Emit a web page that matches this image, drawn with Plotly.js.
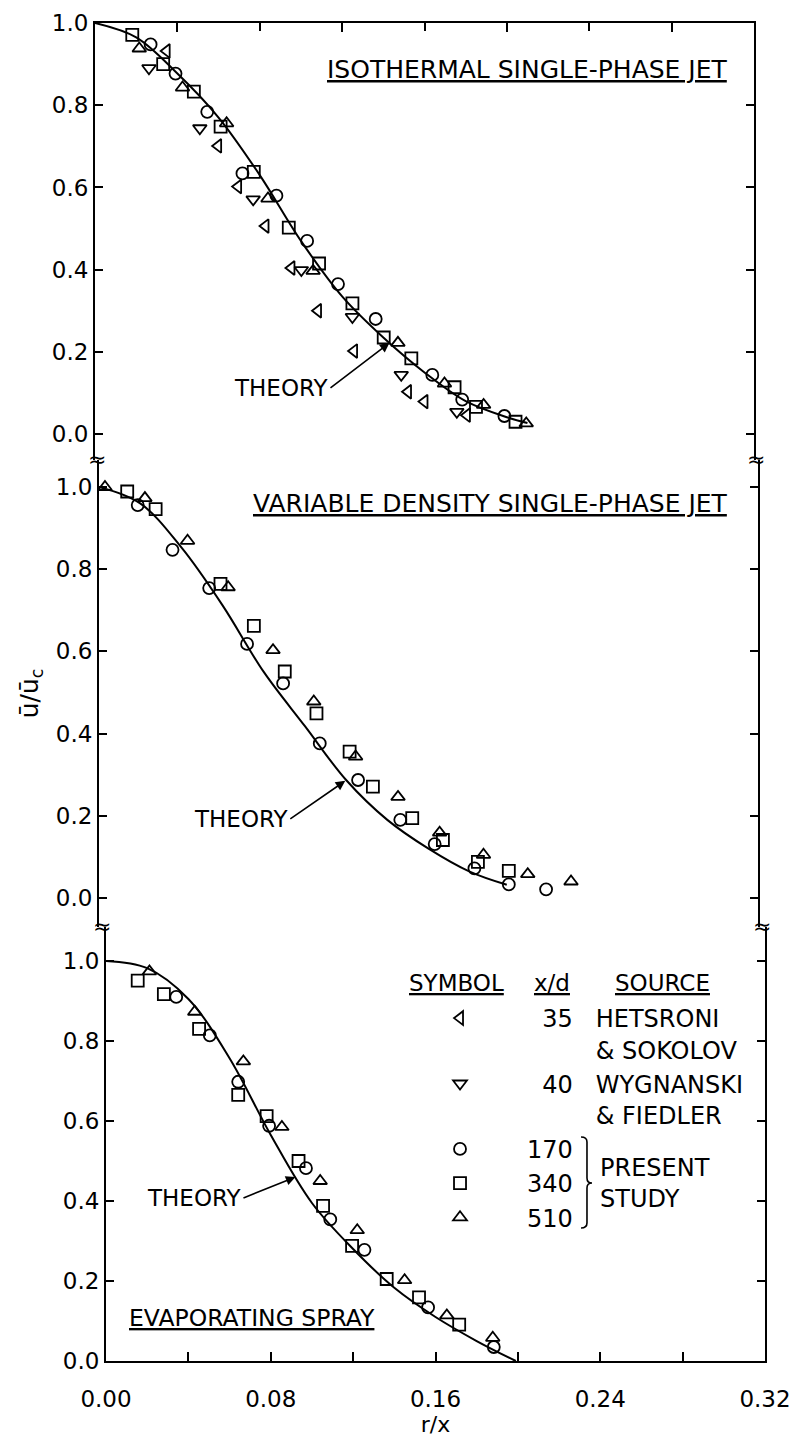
<!DOCTYPE html>
<html><head><meta charset="utf-8">
<script src="https://cdn.plot.ly/plotly-3.0.1.min.js"></script>
<style>html,body{margin:0;padding:0;background:#fff;}</style>
</head><body>
<div id="chart" style="width:796px;height:1443px;"></div>
<script>
// ---------- symbols / sources ----------
const symbols = ['triangle-left-open','triangle-down-open','circle-open','square-open','triangle-up-open'];
const legendNames = [
  '\u200735   HETSRONI<br>\u2007\u2007\u2007   & SOKOLOV',
  '\u200740   WYGNANSKI<br>\u2007\u2007\u2007   & FIEDLER',
  '170', '340', '510'
];
const groups = ['xd35','xd40','xd170','xd340','xd510'];

// ---------- Isothermal single-phase jet (top) ----------
const topR_35  = [0.0348,0.0598,0.0695,0.0828,0.0954,0.1083,0.1258,0.152,0.160,0.1806];
const topU_35  = [0.932,0.701,0.602,0.506,0.404,0.300,0.202,0.103,0.079,0.046];
const topR_40  = [0.0262,0.0509,0.0768,0.1002,0.125,0.1487,0.1757];
const topU_40  = [0.890,0.744,0.571,0.399,0.285,0.144,0.054];
const topR_170 = [0.027,0.0391,0.0545,0.0716,0.0881,0.103,0.118,0.1363,0.1638,0.1783,0.1988];
const topU_170 = [0.948,0.877,0.784,0.634,0.580,0.470,0.365,0.280,0.144,0.084,0.044];
const topR_340 = [0.0181,0.0331,0.048,0.061,0.0771,0.0941,0.1088,0.125,0.1402,0.1536,0.1746,0.185,0.2042];
const topU_340 = [0.971,0.900,0.833,0.748,0.638,0.502,0.415,0.318,0.235,0.184,0.114,0.066,0.030];
const topR_510 = [0.0215,0.0425,0.0639,0.084,0.1059,0.1471,0.1697,0.1887,0.2094];
const topU_510 = [0.938,0.843,0.756,0.573,0.397,0.222,0.123,0.071,0.026];
const topTheoryR = [0,0.02,0.04,0.06,0.08,0.10,0.12,0.14,0.16,0.18,0.20,0.21];
const topTheoryU = [1.0,0.965,0.877,0.77,0.63,0.47,0.335,0.235,0.15,0.08,0.041,0.027];

// ---------- Variable density single-phase jet (middle) ----------
const midR_170 = [0.0188,0.0357,0.0535,0.0719,0.0894,0.1072,0.1258,0.1463,0.163,0.1823,0.199,0.2171];
const midU_170 = [0.956,0.847,0.754,0.618,0.522,0.376,0.287,0.190,0.131,0.072,0.033,0.021];
const midR_340 = [0.0137,0.0275,0.059,0.0752,0.0902,0.1056,0.1217,0.133,0.1521,0.167,0.184,0.199];
const midU_340 = [0.989,0.946,0.764,0.662,0.551,0.449,0.356,0.271,0.194,0.141,0.088,0.066];
const midR_510 = [0.0029,0.0223,0.043,0.0627,0.0845,0.1043,0.1246,0.1452,0.1654,0.1867,0.2082,0.2292];
const midU_510 = [1.0,0.973,0.869,0.756,0.603,0.478,0.344,0.246,0.159,0.105,0.058,0.040];
const midTheoryR = [0,0.02,0.04,0.06,0.08,0.10,0.12,0.14,0.16,0.18,0.198];
const midTheoryU = [1.0,0.96,0.853,0.712,0.55,0.418,0.287,0.19,0.12,0.064,0.032];

// ---------- Evaporating spray (bottom) ----------
const botR_170 = [0.0341,0.0504,0.0642,0.0792,0.0971,0.1089,0.1255,0.1564,0.1883];
const botU_170 = [0.910,0.814,0.698,0.588,0.482,0.354,0.278,0.134,0.035];
const botR_340 = [0.0154,0.0281,0.0452,0.0642,0.078,0.0935,0.1054,0.1195,0.1363,0.152,0.1715];
const botU_340 = [0.951,0.917,0.830,0.665,0.612,0.500,0.388,0.288,0.205,0.159,0.091];
const botR_510 = [0.0211,0.0431,0.0667,0.0854,0.104,0.122,0.145,0.1655,0.1878];
const botU_510 = [0.974,0.873,0.749,0.585,0.450,0.327,0.202,0.114,0.058];
const botTheoryR = [0,0.02,0.04,0.06,0.08,0.10,0.12,0.14,0.16,0.18,0.199];
const botTheoryU = [1.0,0.982,0.905,0.757,0.565,0.395,0.28,0.183,0.11,0.05,0.0];

// ---------- axis ticks ----------
const xMajorVals = [0,0.08,0.16,0.24,0.32];
const xMajorText = ['0.00','0.08','0.16','0.24','0.32'];
const xMinorVals = [0.04,0.12,0.20,0.28];
const yTickVals = [0,0.2,0.4,0.6,0.8,1.0];

const FONT = 'DejaVu Sans';
function pts(x, y, xa, ya, k, show) {
  return {type:'scatter', mode:'markers', x:x, y:y, xaxis:xa, yaxis:ya,
    name:legendNames[k], legendgroup:groups[k], showlegend:show,
    marker:{symbol:symbols[k], size:12, color:'#000', line:{color:'#000', width:1.8}}};
}
function theory(x, y, xa, ya) {
  return {type:'scatter', mode:'lines', x:x, y:y, xaxis:xa, yaxis:ya, showlegend:false,
    name:'THEORY', line:{shape:'spline', smoothing:1, color:'#000', width:2}};
}
const data = [
  pts(topR_35, topU_35, 'x2','y',0,true),
  pts(topR_40, topU_40, 'x2','y',1,true),
  pts(topR_170, topU_170, 'x2','y',2,true),
  pts(topR_340, topU_340, 'x2','y',3,true),
  pts(topR_510, topU_510, 'x2','y',4,true),
  theory(topTheoryR, topTheoryU, 'x2','y'),
  pts(midR_170, midU_170, 'x3','y2',2,false),
  pts(midR_340, midU_340, 'x3','y2',3,false),
  pts(midR_510, midU_510, 'x3','y2',4,false),
  theory(midTheoryR, midTheoryU, 'x3','y2'),
  pts(botR_170, botU_170, 'x','y3',2,false),
  pts(botR_340, botU_340, 'x','y3',3,false),
  pts(botR_510, botU_510, 'x','y3',4,false),
  theory(botTheoryR, botTheoryU, 'x','y3')
];

const minorTicks = {tickvals:xMinorVals, ticks:'inside', ticklen:9, tickwidth:2, tickcolor:'#000', showgrid:false};
const axLine = {showline:true, linecolor:'#000', linewidth:2, ticks:'inside', ticklen:8,
  tickwidth:2, tickcolor:'#000', showgrid:false, zeroline:false,
  tickfont:{family:FONT, size:23, color:'#000'}};
function yax(domain, range, anchor) {
  return Object.assign({}, axLine, {domain:domain, range:range, anchor:anchor, mirror:'ticks',
    tickvals:yTickVals, tickformat:'.1f'});
}
const ann = (o) => Object.assign({showarrow:false, font:{family:FONT, size:23, color:'#000'}}, o);
const brk = (x, y) => ({xref:'paper', yref:'paper', x:x, y:y, xanchor:'center', yanchor:'middle',
  showarrow:false, text:'≈', font:{family:FONT, size:22, color:'#000'}});
const theoryAnn = (xr, yr, x, y, ax, ay) => ({xref:xr, yref:yr, x:x, y:y, ax:ax, ay:ay,
  text:'THEORY', showarrow:true, arrowhead:2, arrowsize:1.2, arrowwidth:1.6, arrowcolor:'#000',
  xanchor:'right', yanchor:'middle', font:{family:FONT, size:23, color:'#000'}});

const layout = {
  width:796, height:1443, paper_bgcolor:'#fff', plot_bgcolor:'#fff',
  margin:{l:95, r:31, t:23, b:82},
  font:{family:FONT, color:'#000'},
  showlegend:true,
  legend:{x:0.4448, y:0.2728, xanchor:'left', yanchor:'top', itemwidth:124,
    valign:'top', traceorder:'normal', bgcolor:'rgba(0,0,0,0)', borderwidth:0,
    font:{family:FONT, size:24, color:'#000'}, itemclick:false, itemdoubleclick:false},
  xaxis: Object.assign({}, axLine, {domain:[0.01642,1], range:[0,0.32], anchor:'y3',
    tickvals:xMajorVals, ticktext:xMajorText, ticklen:9, ticklabelstandoff:16,
    minor:minorTicks,
    title:{text:'r/x', font:{family:FONT, size:22, color:'#000'}, standoff:6}}),
  xaxis2: Object.assign({}, axLine, {domain:[0,0.98358], range:[0,0.32], anchor:'y', side:'top',
    tickvals:xMajorVals, showticklabels:false, minor:minorTicks}),
  xaxis3: {domain:[0.00597,0.98955], range:[0,0.32], anchor:'y2', visible:false},
  yaxis: yax([0.6734,1], [-0.063,1.0], 'x2'),
  yaxis2: Object.assign(yax([0.3244,0.6734], [-0.0706,1.0657], 'x3'),
    {title:{text:'ū/ū<sub>c</sub>', font:{family:FONT, size:25, color:'#000'}, standoff:10}}),
  yaxis3: yax([0,0.3244], [0,1.085], 'x'),
  annotations:[
    ann({xref:'x2', yref:'y', x:0.3084, y:0.886, xanchor:'right', text:'<u>ISOTHERMAL SINGLE-PHASE JET</u>', font:{family:FONT, size:25, color:'#000'}}),
    ann({xref:'x3', yref:'y2', x:0.3065, y:0.961, xanchor:'right', text:'<u>VARIABLE DENSITY SINGLE-PHASE JET</u>', font:{family:FONT, size:25, color:'#000'}}),
    ann({xref:'x', yref:'y3', x:0.0102, y:0.1075, xanchor:'left', text:'<u>EVAPORATING SPRAY</u>', font:{family:FONT, size:23.5, color:'#000'}}),
    theoryAnn('x2','y', 0.143, 0.222, -59, 45),
    theoryAnn('x3','y2', 0.1196, 0.285, -55, 38),
    theoryAnn('x','y3', 0.092, 0.46, -52, 21),
    ann({xref:'x', yref:'y3', x:0.170, y:0.945, text:'<u>SYMBOL</u>', font:{family:FONT, size:23, color:'#000'}}),
    ann({xref:'x', yref:'y3', x:0.2166, y:0.945, text:'<u>x/d</u>', font:{family:FONT, size:23, color:'#000'}}),
    ann({xref:'x', yref:'y3', x:0.270, y:0.945, text:'<u>SOURCE</u>', font:{family:FONT, size:23, color:'#000'}}),
    ann({xref:'x', yref:'y3', x:0.239, y:0.4425, xanchor:'left', align:'left', text:'PRESENT<br>STUDY', font:{family:FONT, size:24, color:'#000'}}),
    brk(0.003, 0.6734), brk(0.9866, 0.6734), brk(0.0104, 0.3251), brk(0.9955, 0.3251)
  ],
  shapes:[
    {type:'path', xref:'paper', yref:'paper', line:{color:'#000', width:1.6},
     path:'M0.7254,0.1674 Q0.7343,0.1674 0.7343,0.1637 L0.7343,0.1368 Q0.7343,0.1330 0.7418,0.1330 Q0.7343,0.1330 0.7343,0.1293 L0.7343,0.1031 Q0.7343,0.0994 0.7254,0.0994'}
  ]
};
Plotly.newPlot('chart', data, layout, {staticPlot:true, displayModeBar:false}).then(function(gd){
  // drop empty placeholder text nodes / zero-width baseline-reset tspans left by Plotly
  var blank = function(el){ return !el.textContent.replace(/[\s\u200b]/g,''); };
  gd.querySelectorAll('tspan').forEach(function(t){ if(blank(t)) t.remove(); });
  gd.querySelectorAll('text').forEach(function(t){ if(blank(t)) t.remove(); });
});
</script></body></html>
